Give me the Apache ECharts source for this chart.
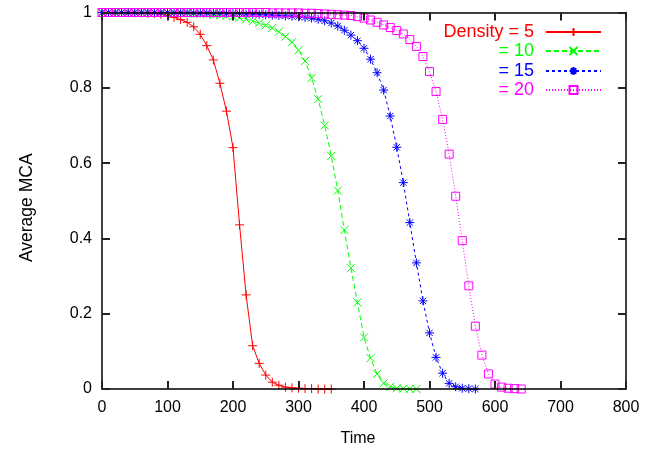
<!DOCTYPE html>
<html>
<head>
<meta charset="utf-8">
<script src="https://cdn.jsdelivr.net/npm/echarts@6/dist/echarts.min.js"></script>
<style>
html,body{margin:0;padding:0;background:#fff;}
#chart{width:659px;height:453px;}
</style>
</head>
<body>
<div id="chart"></div>
<script>
// Time samples (every 10 time units)
var times = [0,10,20,30,40,50,60,70,80,90,100,110,120,130,140,150,160,170,180,190,
  200,210,220,230,240,250,260,270,280,290,300,310,320,330,340,350,360,370,380,390,
  400,410,420,430,440,450,460,470,480,490,500,510,520,530,540,550,560,570,580,590,
  600,610,620,630,640];

var seriesNames = ['Density = 5', '= 10', '= 15', '= 20'];

// Density = 5 (t = 0..350)
var density5 = [1,1,1,1,1,0.999,0.999,0.998,0.997,0.995,0.992,0.987,0.981,0.974,0.962,0.942,
  0.912,0.874,0.812,0.738,0.641,0.436,0.250,0.115,0.068,0.037,0.018,0.010,0.005,0.003,
  0.002,0.001,0.001,0,0,0];

// Density = 10 (t = 0..480)
var density10 = [1,1,1,1,1,1,1,1,1,1,0.999,0.999,0.998,0.998,0.997,0.996,
  0.995,0.994,0.993,0.991,0.989,0.986,0.982,0.977,0.972,0.966,0.959,0.949,0.936,0.921,
  0.900,0.871,0.826,0.770,0.700,0.619,0.527,0.422,0.321,0.230,0.137,0.082,0.040,0.015,
  0.006,0.002,0.001,0,0];

// Density = 15 (t = 0..570)
var density15 = [1,1,1,1,1,1,1,1,1,1,1,1,1,1,0.999,0.999,0.999,0.998,0.998,0.998,
  0.997,0.997,0.996,0.996,0.995,0.994,0.993,0.992,0.991,0.990,0.989,0.987,0.985,0.982,
  0.978,0.972,0.964,0.953,0.940,0.925,0.905,0.876,0.840,0.794,0.725,0.642,0.548,0.442,
  0.335,0.234,0.149,0.084,0.042,0.015,0.006,0.002,0.001,0];

// Density = 20 (t = 0..640)
var density20 = [1,1,1,1,1,1,1,1,1,1,1,1,1,1,1,1,1,1,1,1,1,1,1,1,1,1,0.999,0.999,0.999,0.999,
  0.999,0.998,0.998,0.997,0.996,0.995,0.994,0.993,0.992,0.989,0.985,0.980,0.974,0.967,
  0.960,0.952,0.943,0.928,0.910,0.883,0.843,0.790,0.716,0.624,0.512,0.394,0.274,0.167,
  0.090,0.040,0.013,0.005,0.002,0.001,0];

var xTicks = [0,100,200,300,400,500,600,700,800];
var yTicks = [0,0.2,0.4,0.6,0.8,1];

var colors = ['#ff0000', '#00ff00', '#0000ff', '#ff00ff'];
var dashes = ['solid', [5,3], [3,3], [1,2]];
var symbols = [
  'path://M0,4L8,4M4,0L4,8',
  'path://M0,0L8,8M0,8L8,0',
  'path://M0,4L8,4M4,0L4,8M1.2,1.2L6.8,6.8M1.2,6.8L6.8,1.2',
  'rect'
];
var symbolSizes = [9, 8, 9, 8];
var allValues = [density5, density10, density15, density20];

function pairs(vals) {
  var out = [];
  for (var i = 0; i < vals.length; i++) out.push([times[i], vals[i]]);
  return out;
}

var FONT = 'Liberation Sans';
var series = seriesNames.map(function (name, k) {
  return {
    name: name,
    type: 'line',
    data: pairs(allValues[k]),
    xAxisIndex: 0,
    yAxisIndex: 0,
    clip: false,
    symbol: symbols[k],
    symbolSize: symbolSizes[k],
    showAllSymbol: true,
    animation: false,
    lineStyle: { color: colors[k], width: 1, type: dashes[k] },
    itemStyle: { color: 'transparent', borderColor: colors[k], borderWidth: 1 },
    emphasis: { disabled: true },
    z: 2 + k
  };
});

var legendTops = [23, 42, 62, 81];
var legends = seriesNames.map(function (name, k) {
  return {
    data: [name],
    orient: 'vertical',
    align: 'right',
    right: 57,
    top: legendTops[k],
    itemWidth: 55,
    itemHeight: 10,
    selectedMode: false,
    padding: 0,
    textStyle: { color: colors[k], fontSize: 18, fontFamily: FONT, padding: [0, 7, 0, 0] }
  };
});

function xAxisCfg(pos, withLabels) {
  var a = {
    type: 'value', min: xTicks[0], max: xTicks[xTicks.length - 1], interval: 100,
    position: pos,
    z: 10,
    splitLine: { show: false },
    axisLine: { show: true, onZero: false, lineStyle: { color: '#000', width: 1.5 } },
    axisTick: { show: true, inside: true, length: 8, lineStyle: { color: '#222', width: 2 } },
    axisLabel: withLabels ? { show: true, fontSize: 16, fontFamily: FONT, color: '#000', margin: 11 } : { show: false }
  };
  if (withLabels) {
    a.name = 'Time';
    a.nameLocation = 'middle';
    a.nameGap = 42;
    a.nameTextStyle = { fontSize: 16, fontFamily: FONT, color: '#000', padding: [0, 12, 0, 0] };
  }
  return a;
}
function yAxisCfg(pos, withLabels) {
  var a = {
    type: 'value', min: yTicks[0], max: yTicks[yTicks.length - 1], interval: 0.2,
    position: pos,
    z: 10,
    splitLine: { show: false },
    axisLine: { show: true, onZero: false, lineStyle: { color: '#000', width: 1.5 } },
    axisTick: { show: true, inside: true, length: 8, lineStyle: { color: '#222', width: 2 } },
    axisLabel: withLabels ? { show: true, fontSize: 16, fontFamily: FONT, color: '#000', margin: 10 } : { show: false }
  };
  if (withLabels) {
    a.name = 'Average MCA';
    a.nameLocation = 'middle';
    a.nameGap = 66;
    a.nameRotate = 90;
    a.nameTextStyle = { fontSize: 17.5, fontFamily: FONT, color: '#000', padding: [0, 14, 0, 0] };
  }
  return a;
}

var option = {
  backgroundColor: '#fff',
  animation: false,
  grid: { left: 102, right: 33, top: 12.5, bottom: 64 },
  legend: legends,
  xAxis: [xAxisCfg('bottom', true), xAxisCfg('top', false)],
  yAxis: [yAxisCfg('left', true), yAxisCfg('right', false)],
  series: series
};

var chart = echarts.init(document.getElementById('chart'));
chart.setOption(option);
</script>
</body>
</html>
